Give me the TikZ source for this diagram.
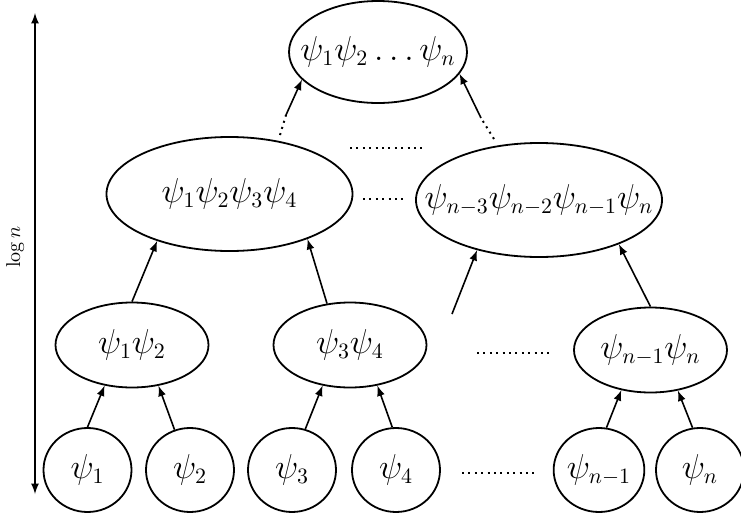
\documentclass[tikz,border=0pt]{standalone}
\usepackage{amsmath}
\usepackage{amssymb}
\usepackage{tikz}
\usetikzlibrary{arrows,shapes.geometric}

\tikzset{
	psinode/.style={draw=black,ellipse,line width=0.9pt,inner sep=0pt,font=\fontsize{16}{19}\selectfont,minimum width=44pt,minimum height=42pt},
	pairnode/.style={psinode,minimum width=76.5pt,minimum height=42.5pt},
	quadnode/.style={psinode,inner xsep=-15pt,minimum width=123pt,minimum height=57pt},
	rootnode/.style={psinode,inner xsep=-15pt,minimum width=89pt,minimum height=51pt},
	uparrow/.style={-latex,line width=0.8pt},
	dotrow/.style={line width=1pt,dash pattern=on 1pt off 2.2pt}
}

\begin{document}
\begin{tikzpicture}[x=0.5pt,y=-0.5pt]
		\useasboundingbox (0,0) rectangle (741,515);
		
		\node[psinode] (p1) at (87.5,470) {$\psi_1$};
		\node[psinode] (p2) at (190,470) {$\psi_2$};
		\node[psinode] (p3) at (292,470) {$\psi_3$};
		\node[psinode] (p4) at (396,470) {$\psi_4$};
		\node[psinode] (pn1) at (599,470) {$\psi_{n-1}$};
		\node[psinode] (pn) at (700,470) {$\psi_n$};
		
		\node[pairnode] (p12) at (132,345) {$\psi_1\psi_2$};
		\node[pairnode] (p34) at (350,345) {$\psi_3\psi_4$};
		\node[pairnode] (pn1n) at (650.5,350) {$\psi_{n-1}\psi_n$};
		
		\node[quadnode] (p1234) at (229.5,194) {$\psi_1\psi_2\psi_3\psi_4$};
		\node[quadnode] (pn3n) at (539,200) {$\psi_{n-3}\psi_{n-2}\psi_{n-1}\psi_n$};
		
		\node[rootnode] (root) at (378,52) {$\psi_1\psi_2\ldots\psi_n$};
		
		\coordinate (gap) at (452,314);
		\coordinate (la) at (286,115);
		\coordinate (lb) at (280,135);
		\coordinate (ra) at (481,118);
		\coordinate (rb) at (494,139);
		\coordinate (htop) at (35,13);
		\coordinate (hbot) at (35,494);
		
		\draw[uparrow] (p1.north) -- (p12.236);
		\draw[uparrow] (p2.111) -- (p12.303);
		\draw[uparrow] (p3.72) -- (p34.236);
		\draw[uparrow] (p4.95) -- (p34.304);
		\draw[uparrow] (pn1.80) -- (pn1n.234);
		\draw[uparrow] (pn.100) -- (pn1n.304);
		
		\draw[uparrow] (p12.north) -- (p1234.213);
		\draw[uparrow] (p34.119) -- (p1234.330);
		\draw[uparrow] (gap) -- (pn3n.219);
		\draw[uparrow] (pn1n.north) -- (pn3n.331);
		
		\draw[uparrow] (la) -- (root.200);
		\draw[uparrow] (ra) -- (root.345);
		\draw[dotrow] (lb) -- (la);
		\draw[dotrow] (rb) -- (ra);
		
		\draw[dotrow] (350,148) -- (424,148);
		\draw[dotrow] (363,199) -- (404,199);
		\draw[dotrow] (477,353) -- (549,353);
		\draw[dotrow] (462,473) -- (536,473);
		
		\draw[latex-latex,line width=0.8pt] (hbot) -- (htop);
		\node[rotate=90] (height) at (15,247) {$\log n$};
	\end{tikzpicture}
\end{document}
